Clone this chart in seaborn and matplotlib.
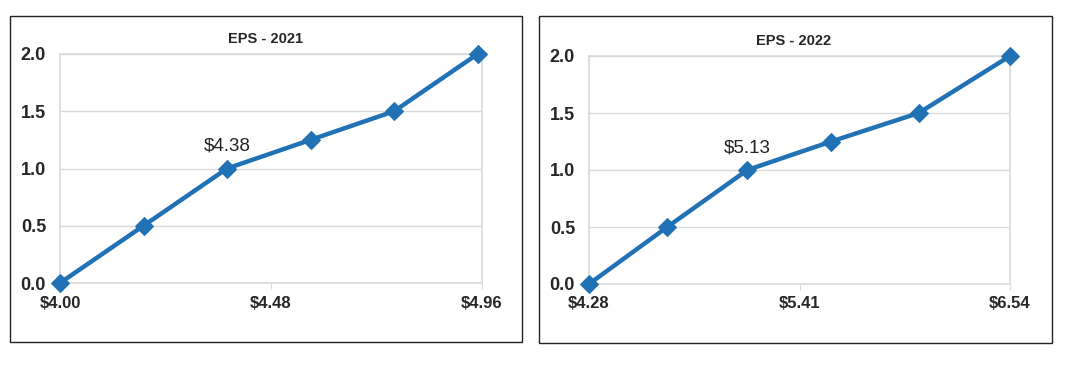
import matplotlib
matplotlib.use("Agg")
import matplotlib.pyplot as plt
import seaborn as sns
import pandas as pd
from matplotlib.patches import Rectangle

eps_2021 = [4.00, 4.19, 4.38, 4.57, 4.76, 4.95]
eps_2022 = [4.28, 4.70, 5.13, 5.58, 6.05, 6.54]
levels = [0.0, 0.5, 1.0, 1.25, 1.5, 2.0]
ticks_2021 = [4.00, 4.48, 4.96]
ticks_2022 = [4.28, 5.41, 6.54]
titles = ["EPS - 2021", "EPS - 2022"]
labels = ["$4.38", "$5.13"]
label_x = [4.38, 5.13]

sns.set_style("white")
plt.rcParams["font.family"] = ["Liberation Sans", "DejaVu Sans"]

W, H = 1072, 365
fig = plt.figure(figsize=(W / 100, H / 100), dpi=100)

line_color = "#2171b5"
grid_color = "#d9d9d9"

boxes = [(10, 16, 522, 342), (539, 16, 1052, 343)]
areas = [(60, 54, 482, 283), (589, 56, 1010, 284)]
series = [eps_2021, eps_2022]
tick_sets = [ticks_2021, ticks_2022]

for i in range(2):
    bx0, by0, bx1, by1 = boxes[i]
    fig.patches.append(Rectangle((bx0 / W, 1 - by1 / H), (bx1 - bx0) / W, (by1 - by0) / H,
                                 transform=fig.transFigure, fill=False,
                                 edgecolor="#222222", linewidth=1.0))
    x0, y0, x1, y1 = areas[i]
    ax = fig.add_axes([x0 / W, 1 - y1 / H, (x1 - x0) / W, (y1 - y0) / H])
    df = pd.DataFrame({"eps": series[i], "level": levels})
    sns.lineplot(data=df, x="eps", y="level", ax=ax, color=line_color, linewidth=3.2,
                 marker="D", markersize=9, markeredgecolor=line_color, clip_on=False,
                 zorder=5, sort=False)
    ticks = tick_sets[i]
    ax.set_xlim(ticks[0], ticks[-1])
    ax.set_ylim(0, 2.0)
    ax.set_xticks(ticks)
    ax.set_xticklabels([f"${t:.2f}" for t in ticks], fontsize=12, fontweight="bold")
    ax.set_yticks([0.0, 0.5, 1.0, 1.5, 2.0])
    ax.set_yticklabels(["0.0", "0.5", "1.0", "1.5", "2.0"], fontsize=13, fontweight="bold")
    ax.tick_params(axis="x", length=4, color=grid_color, pad=5, bottom=True)
    ax.tick_params(axis="y", length=0, pad=10)
    ax.set_xlabel("")
    ax.set_ylabel("")
    ax.yaxis.grid(True, color=grid_color, linewidth=1)
    ax.xaxis.grid(False)
    for s in ax.spines.values():
        s.set_color(grid_color)
        s.set_linewidth(1.2)
    ax.set_title(titles[i], fontsize=10.5, fontweight="bold", pad=8, x=0.486)
    ax.annotate(labels[i], (label_x[i], 1.0), xytext=(0, 10), textcoords="offset points",
                ha="center", va="bottom", fontsize=13.5, color="#222222")

fig.savefig("out.png", dpi=100)
